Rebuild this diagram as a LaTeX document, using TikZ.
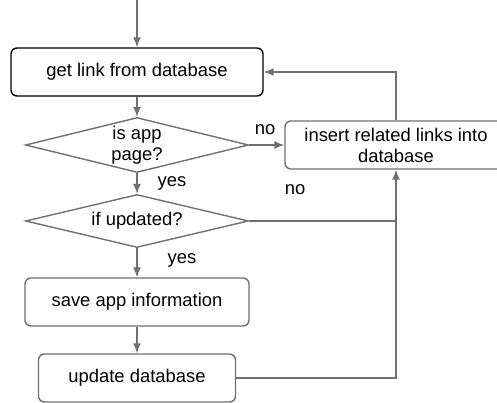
\documentclass[tikz,border=0pt]{standalone}
\usepackage{fontspec}
\setmainfont{Liberation Sans}
\usetikzlibrary{shapes.geometric,arrows.meta}
\definecolor{linegray}{RGB}{112,112,112}
\tikzset{
  stepbox/.style={draw=linegray, rounded corners=6pt, line width=1.4pt, minimum height=48pt, align=center},
  decide/.style={draw=linegray, diamond, aspect=4, inner sep=0pt, line width=1.4pt, minimum width=223pt, minimum height=55pt, align=center},
  flow/.style={draw=linegray, line width=1.4pt}
}
\begin{document}
\begin{tikzpicture}[>={Latex[length=10pt,width=8pt]}, x=1pt, y=-1pt, font=\fontsize{18.4}{21}\selectfont]
\useasboundingbox (0,0) rectangle (497,403);
\coordinate (start) at (137,0);
\node[stepbox, draw=black, minimum width=252pt] (link) at (137,72) {get link from database};
\node[decide] (isapp) at (137,145) {is app\\page?};
\node[stepbox, minimum width=222pt] (insert) at (396,145) {insert related links into\\database};
\node[decide, minimum height=53pt] (updated) at (137,221) {if updated?};
\node[stepbox, minimum width=224pt] (save) at (137,302) {save app information};
\node[stepbox, minimum width=197pt] (update) at (137,378) {update database};

\draw[flow,->] (start)--(link);
\draw[flow,->] (link)--(isapp);
\draw[flow,->] (isapp)--(insert);
\draw[flow,->] (insert.north) |- (link.east);
\draw[flow,->] (isapp)--(updated);
\draw[flow] (updated.east)--(updated.east -| insert.south);
\draw[flow,->] (update.east) -| (insert.south);
\draw[flow,->] (updated)--(save);
\draw[flow,->] (save)--(update);

\node (no1) at (265,130) {no};
\node (yes1) at (172,183) {yes};
\node (no2) at (295,190) {no};
\node (yes2) at (182,260) {yes};
\end{tikzpicture}
\end{document}
